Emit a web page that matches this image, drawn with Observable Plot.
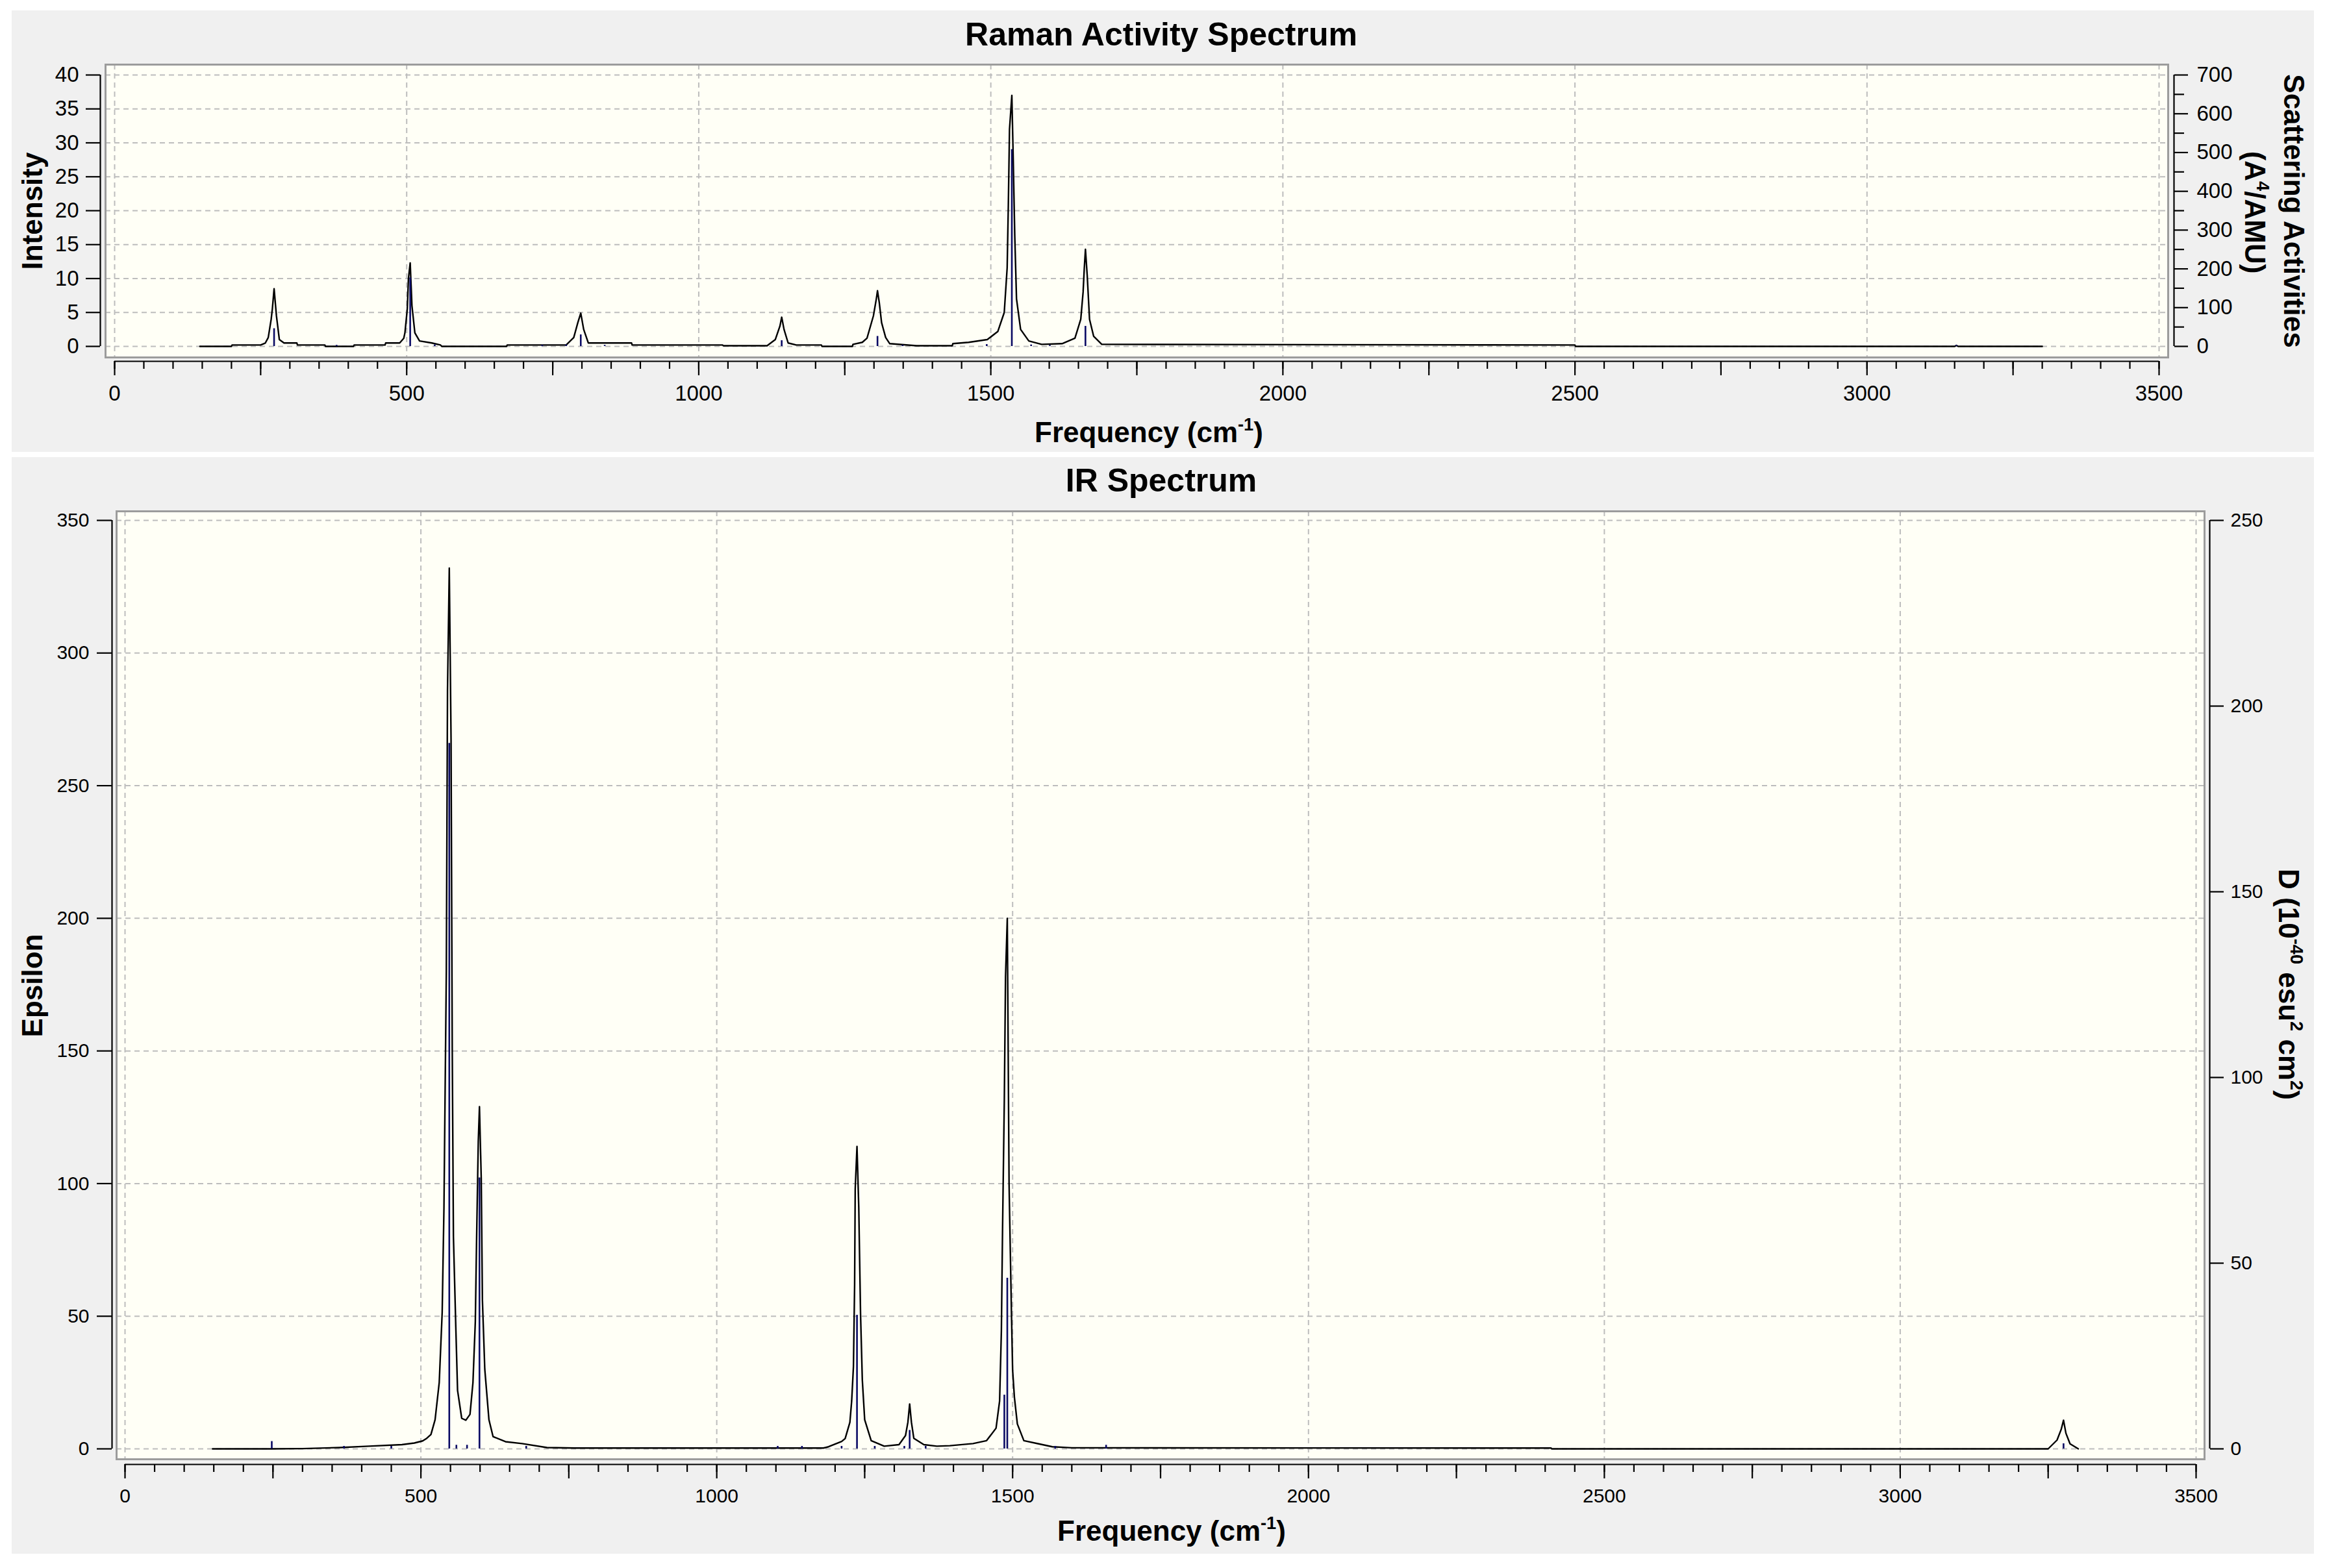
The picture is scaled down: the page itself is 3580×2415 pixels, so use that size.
<!DOCTYPE html>
<html>
<head>
<meta charset="utf-8">
<script src="https://cdn.jsdelivr.net/npm/d3@7"></script>
<script src="https://cdn.jsdelivr.net/npm/@observablehq/plot@0.6"></script>
<style>
html, body { margin: 0; padding: 0; background: #ffffff; }
#root { position: relative; width: 3580px; height: 2415px; background: #ffffff; overflow: hidden; font-family: "Liberation Sans", Arial, sans-serif; }
.panel { position: absolute; background: #f0f0f0; }
.plot { position: absolute; left: 0; }
.lbl { position: absolute; white-space: nowrap; font-weight: bold; color: #000; line-height: 1; transform: translate(-50%, -50%); }
.lbl sup { font-size: 0.62em; position: relative; top: -0.15em; vertical-align: top; line-height: 1; }
</style>
</head>
<body>
<div id="root"></div>
<script>
// ---------------- DATA ----------------
// Shared frequency axis (cm^-1)
const xDomain = [0, 3500];
const xLabelTicks = [0, 500, 1000, 1500, 2000, 2500, 3000, 3500];
const xMajorTicks = [0, 250, 500, 750, 1000, 1250, 1500, 1750, 2000, 2250, 2500, 2750, 3000, 3250, 3500];
const xMinorTicks = d3.range(0, 3501, 50);

// Raman spectrum: broadened curve (left axis, Intensity)
const ramanCurveFreq = [146, 200, 201, 250, 258, 263, 268, 270, 273, 277, 282, 290, 312, 313, 360, 361, 409, 410, 463, 464, 488, 495, 497, 501, 503, 506, 509, 514, 522, 543, 558, 560, 671, 672, 773, 786, 793, 798, 803, 811, 885, 886, 1041, 1042, 1117, 1131, 1139, 1142, 1146, 1153, 1167, 1210, 1211, 1263, 1264, 1280, 1288, 1299, 1304, 1306, 1309, 1313, 1320, 1327, 1373, 1434, 1435, 1462, 1494, 1512, 1523, 1528, 1530, 1532, 1536, 1538, 1541, 1544, 1551, 1565, 1587, 1622, 1644, 1654, 1658, 1660, 1662, 1665, 1669, 1676, 1690, 2500, 2501, 3150, 3153, 3156, 3300];
const ramanCurveIntensity = [0, 0, 0.2, 0.2, 0.5, 1.3, 4, 5.5, 8.5, 4.5, 1.0, 0.5, 0.5, 0.2, 0.2, 0, 0, 0.2, 0.2, 0.5, 0.5, 1.2, 2.0, 5.5, 10, 12.3, 6, 2, 0.8, 0.5, 0.2, 0, 0, 0.2, 0.2, 1.3, 3.5, 4.9, 2.5, 0.5, 0.5, 0.2, 0.2, 0.1, 0.1, 1, 3, 4.3, 2.5, 0.5, 0.2, 0.2, 0, 0, 0.3, 0.6, 1.2, 4.5, 7, 8.2, 6.5, 3.5, 1.3, 0.4, 0.1, 0.1, 0.4, 0.6, 1.0, 2.2, 5, 11.6, 20.9, 32, 37.0, 29.2, 16.3, 7, 2.5, 0.8, 0.3, 0.4, 1.2, 4, 8, 11.5, 14.3, 10.5, 4, 1.5, 0.3, 0.2, 0, 0, 0.15, 0, 0];
// Raman sticks (right axis, Scattering Activities A^4/AMU)
const ramanStickFreq = [273, 380, 506, 548, 732, 773, 798, 839, 1142, 1306, 1349, 1493, 1536, 1569, 1601, 1662, 3153];
const ramanStickActivity = [46, 3, 177, 4, 3, 4, 30, 3, 15, 26, 3, 5, 508, 4, 3, 52, 3];
const ramanLeftDomain = [0, 40];
const ramanLeftTicks = [0, 5, 10, 15, 20, 25, 30, 35, 40];
const ramanRightDomain = [0, 700];
const ramanRightTicks = [0, 100, 200, 300, 400, 500, 600, 700];
const ramanRightMinor = [50, 150, 250, 350, 450, 550, 650];

// IR spectrum: broadened curve (left axis, Epsilon)
const irCurveFreq = [148, 244, 300, 363, 412, 468, 489, 503, 510, 517, 524, 531, 536, 539, 543, 545, 548, 551, 553, 555, 559, 562, 569, 576, 583, 588, 592, 594, 597, 599, 602, 604, 608, 615, 622, 643, 671, 713, 760, 1180, 1189, 1211, 1217, 1225, 1228, 1231, 1233, 1234, 1237, 1240, 1243, 1246, 1250, 1261, 1283, 1308, 1319, 1323, 1326, 1329, 1333, 1350, 1372, 1394, 1433, 1456, 1472, 1478, 1481, 1483, 1486, 1488, 1491, 1494, 1498, 1500, 1503, 1508, 1519, 1544, 1567, 1600, 2410, 2411, 3250, 3265, 3272, 3276, 3280, 3287, 3301];
const irCurveEpsilon = [0, 0, 0.1, 0.5, 1.0, 1.6, 2.2, 3, 4, 5.4, 11, 25, 51.5, 91, 180, 286, 332, 267, 151, 80, 46, 22, 11.5, 10.8, 13, 25, 48, 77, 116, 129, 102, 56, 30, 11, 4.6, 2.7, 2, 0.5, 0.3, 0.3, 0.8, 2.8, 3.9, 10, 18, 31, 62, 98, 114, 91, 51, 26, 11, 3.1, 1.0, 1.6, 5, 10, 16.9, 10, 4, 1.6, 1.0, 1.2, 2, 3.1, 7.8, 18, 44.5, 83, 132, 178, 200, 100, 51.6, 29.7, 19.5, 9.4, 3.1, 1.9, 0.8, 0.4, 0.3, 0, 0, 3.3, 7.3, 10.8, 5.9, 1.9, 0];
// IR sticks (right axis, D 10^-40 esu^2 cm^2)
const irStickFreq = [248, 370, 450, 548, 560, 578, 599, 678, 1103, 1144, 1211, 1237, 1267, 1317, 1326, 1353, 1486, 1491, 1572, 1658, 3276];
const irStickD = [2, 0.7, 0.7, 190, 1, 1, 73, 0.7, 0.7, 0.7, 0.7, 36, 0.7, 0.7, 5, 0.7, 14.5, 46, 0.7, 1, 1.4];
const irLeftDomain = [0, 350];
const irLeftTicks = [0, 50, 100, 150, 200, 250, 300, 350];
const irRightDomain = [0, 250];
const irRightTicks = [0, 50, 100, 150, 200, 250];

// ---------------- STYLE ----------------
const FRAME_FILL = "#fffff6";
const FRAME_STROKE = "#9c9c9c";
const GRID = "#bdbdbd";
const STICK = "#0a0a64";
const fmt = d => String(d);

const ramanCurve = ramanCurveFreq.map((f, i) => ({f, v: ramanCurveIntensity[i]}));
const ramanSticks = ramanStickFreq.map((f, i) => ({f, a: ramanStickActivity[i]}));
const irCurve = irCurveFreq.map((f, i) => ({f, v: irCurveEpsilon[i]}));
const irSticks = irStickFreq.map((f, i) => ({f, a: irStickD[i]}));

const root = document.getElementById("root");
function addDiv(cls, css, html) {
  const d = document.createElement("div");
  d.className = cls;
  Object.assign(d.style, css);
  if (html != null) d.innerHTML = html;
  root.appendChild(d);
  return d;
}
addDiv("panel", {left: "18px", top: "16px", width: "3545px", height: "680px"});
addDiv("panel", {left: "18px", top: "704px", width: "3545px", height: "1689px"});

function spectrum(cfg) {
  const common = {
    width: 3580, height: cfg.height,
    marginLeft: cfg.mL, marginRight: cfg.mR, marginTop: cfg.mT, marginBottom: cfg.mB,
    style: {background: "transparent", overflow: "visible", fontFamily: cfg.font, fontSize: cfg.fontSize + "px", color: "#000"}
  };
  const xs = {domain: xDomain, insetLeft: cfg.inL, insetRight: cfg.inR, axis: null};
  const base = Plot.plot({
    ...common,
    x: xs,
    y: {domain: cfg.leftDomain, insetTop: cfg.inT, insetBottom: cfg.inB, axis: null},
    marks: [
      Plot.frame({fill: FRAME_FILL, stroke: "none"}),
      Plot.gridX(xLabelTicks, {stroke: GRID, strokeOpacity: 1, strokeWidth: 2, strokeDasharray: "8,6"}),
      Plot.gridY(cfg.leftTicks, {stroke: GRID, strokeOpacity: 1, strokeWidth: 2, strokeDasharray: "8,6"}),
      Plot.frame({stroke: FRAME_STROKE, strokeWidth: 3}),
      // left axis
      Plot.axisY(cfg.leftTicks, {anchor: "left", tickSize: cfg.yTick, dx: -cfg.yGap, tickPadding: cfg.yPadL, tickFormat: fmt, label: null, strokeWidth: 2.2}),
      Plot.ruleX([xDomain[0]], {y1: cfg.leftDomain[0], y2: cfg.leftDomain[1], dx: -(cfg.inL + cfg.yGap), stroke: "#000", strokeWidth: 2.2}),
      // bottom axis
      Plot.axisX(xLabelTicks, {anchor: "bottom", tickSize: 0, dy: cfg.xGap, tickPadding: cfg.xLabelPad, tickFormat: fmt, label: null}),
      Plot.axisX(xMajorTicks, {anchor: "bottom", tickSize: cfg.xMajor, dy: cfg.xGap, fill: "none", label: null, strokeWidth: 2.2}),
      Plot.axisX(xMinorTicks, {anchor: "bottom", tickSize: cfg.xMinor, dy: cfg.xGap, fill: "none", label: null, strokeWidth: 2.2}),
      Plot.ruleY([cfg.leftDomain[0]], {x1: xDomain[0], x2: xDomain[1], dy: cfg.inB + cfg.xGap, stroke: "#000", strokeWidth: 2.2}),
      // curve
      Plot.line(cfg.curve, {x: "f", y: "v", stroke: "#000", strokeWidth: 2.4})
    ]
  });
  const overlayMarks = [
    Plot.axisY(cfg.rightTicks, {anchor: "right", tickSize: cfg.rTick, dx: cfg.rGap, tickPadding: cfg.yPadR, tickFormat: fmt, label: null, strokeWidth: 2.2}),
    Plot.ruleX([xDomain[1]], {y1: cfg.rightDomain[0], y2: cfg.rightDomain[1], dx: cfg.inR + cfg.rGap, stroke: "#000", strokeWidth: 2.2}),
    Plot.ruleX(cfg.sticks, {x: "f", y1: 0, y2: "a", stroke: STICK, strokeWidth: 2.6})
  ];
  if (cfg.rightMinor) overlayMarks.unshift(Plot.axisY(cfg.rightMinor, {anchor: "right", tickSize: cfg.rMinor, dx: cfg.rGap, fill: "none", label: null, strokeWidth: 2.2}));
  const overlay = Plot.plot({
    ...common,
    x: xs,
    y: {domain: cfg.rightDomain, insetTop: cfg.inT, insetBottom: cfg.inB, axis: null},
    marks: overlayMarks
  });
  for (const svg of [base, overlay]) {
    svg.classList.add("plot");
    svg.style.top = cfg.top + "px";
    svg.style.maxWidth = "none";
    root.appendChild(svg);
  }
}

// Raman panel
spectrum({
  top: 0, height: 700, mL: 162, mR: 242, mT: 99, mB: 150,
  inL: 14, inR: 14, inT: 16, inB: 17,
  font: "'Liberation Sans', Arial, sans-serif", fontSize: 33,
  leftDomain: ramanLeftDomain, leftTicks: ramanLeftTicks,
  rightDomain: ramanRightDomain, rightTicks: ramanRightTicks, rightMinor: ramanRightMinor,
  yGap: 8, yTick: 22, yPadL: 11, rGap: 9, rTick: 21, rMinor: 15, yPadR: 14,
  xGap: 6, xMajor: 22, xMinor: 12, xLabelPad: 37,
  curve: ramanCurve, sticks: ramanSticks
});

// IR panel
spectrum({
  top: 700, height: 1715, mL: 179, mR: 186, mT: 87, mB: 168,
  inL: 13, inR: 13, inT: 14, inB: 16,
  font: "'Liberation Sans', Arial, sans-serif", fontSize: 30,
  leftDomain: irLeftDomain, leftTicks: irLeftTicks,
  rightDomain: irRightDomain, rightTicks: irRightTicks, rightMinor: null,
  yGap: 7, yTick: 23, yPadL: 12, rGap: 8, rTick: 21, rMinor: 0, yPadR: 11,
  xGap: 8, xMajor: 22, xMinor: 12, xLabelPad: 37,
  curve: irCurve, sticks: irSticks
});

// Titles and axis labels
addDiv("lbl", {left: "1788px", top: "53px", fontSize: "50px"}, "Raman Activity Spectrum");
addDiv("lbl", {left: "1769px", top: "666px", fontSize: "44px"}, "Frequency (cm<sup>-1</sup>)");
addDiv("lbl", {left: "50px", top: "325px", fontSize: "44px", transform: "translate(-50%,-50%) rotate(-90deg)"}, "Intensity");
addDiv("lbl", {left: "3532px", top: "325px", fontSize: "44px", transform: "translate(-50%,-50%) rotate(90deg)"}, "Scattering Activities");
addDiv("lbl", {left: "3472px", top: "327px", fontSize: "44px", transform: "translate(-50%,-50%) rotate(90deg)"}, "(A<sup>4</sup>/AMU)");

addDiv("lbl", {left: "1788px", top: "740px", fontSize: "50px"}, "IR Spectrum");
addDiv("lbl", {left: "1804px", top: "2358px", fontSize: "44px"}, "Frequency (cm<sup>-1</sup>)");
addDiv("lbl", {left: "50px", top: "1518px", fontSize: "44px", transform: "translate(-50%,-50%) rotate(-90deg)"}, "Epsilon");
addDiv("lbl", {left: "3524px", top: "1516px", fontSize: "44px", transform: "translate(-50%,-50%) rotate(90deg)"}, "D (10<sup>-40</sup> esu<sup>2</sup> cm<sup>2</sup>)");
</script>
</body>
</html>
